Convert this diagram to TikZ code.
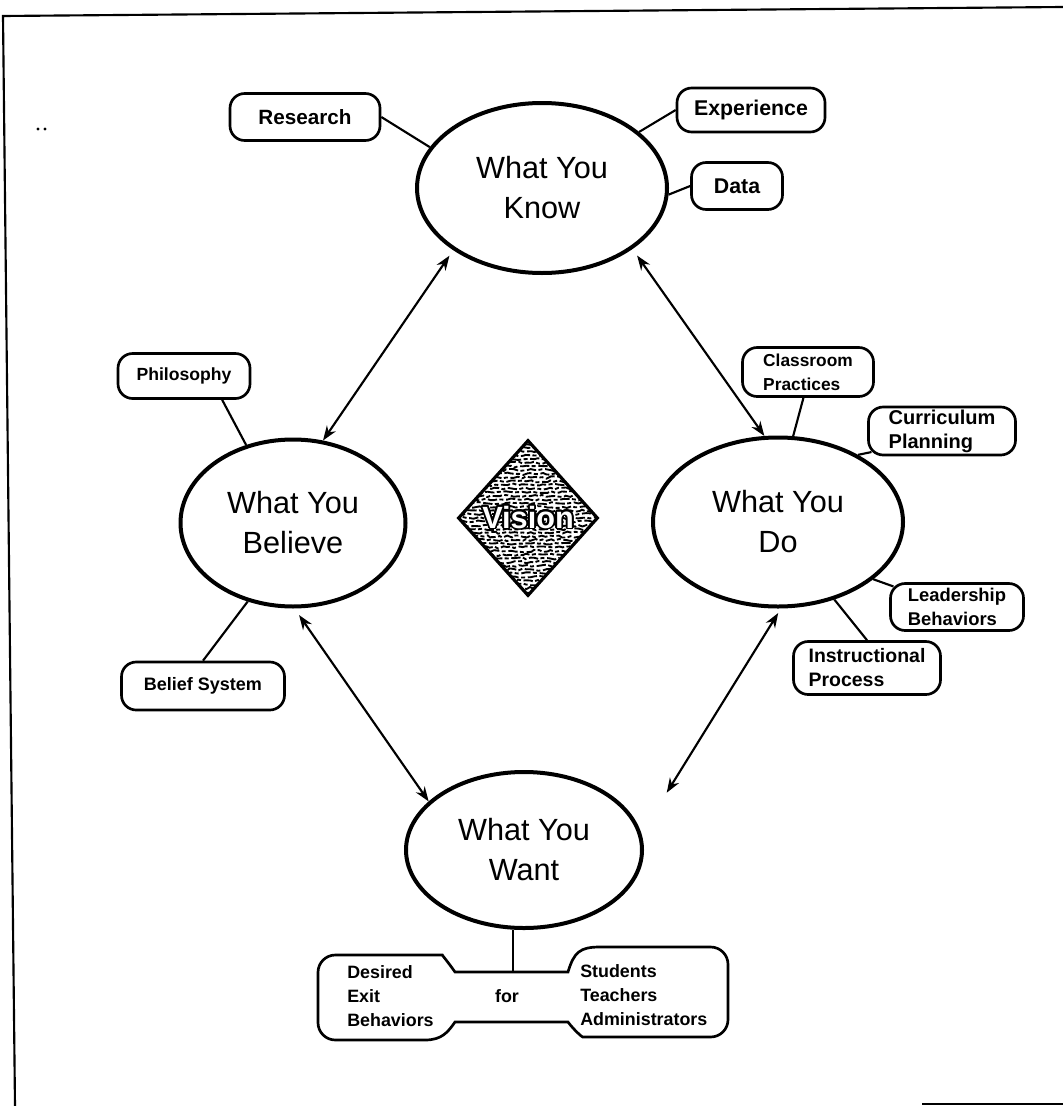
\documentclass[tikz,border=0pt]{standalone}
\usepackage{fontspec}
\setmainfont{Liberation Sans}
\usepackage{contour}
\usetikzlibrary{shapes.geometric,arrows.meta,decorations.pathmorphing,calc}
\contourlength{1.3pt}
\contournumber{24}
\newcommand\bxf[1]{\fontsize{#1}{18pt}\selectfont\bfseries}
\begin{document}
\begin{tikzpicture}[x=0.75pt,y=-0.75pt,
  oval/.style={ellipse, draw, line width=3pt, inner sep=0pt, align=center, font=\fontsize{23}{30}\selectfont},
  bx/.style={draw, rounded corners=11pt, line width=2pt, inner sep=0pt, align=left},
  txt/.style={inner sep=0pt, align=left, font=\bxf{13.4}},
  link/.style={line width=1.6pt},
  dbl/.style={line width=1.6pt, {Stealth[length=11pt,width=8pt]}-{Stealth[length=11pt,width=8pt]}},
]
\pgfmathsetseed{7}
\fill[white] (0,0) rectangle (1063,1106);
\useasboundingbox (0,0) rectangle (1063,1106);

% frame
\draw[line width=1.6pt] (1063,7) -- (3,16) -- (15,1106);
\draw[line width=1.6pt] (922,1104) -- (1063,1104);
\fill (38,129) circle (1.3pt);
\fill (45,129) circle (1.3pt);

% main ellipses
\node[oval, minimum width=187.5pt, minimum height=127.5pt] (know) at (542,188) {What You\\Know};
\node[oval, minimum width=168.75pt, minimum height=125.25pt] (believe) at (293,523) {What You\\Believe};
\node[oval, minimum width=187.5pt, minimum height=126.75pt] (do) at (778,522) {What You\\Do};
\node[oval, minimum width=177pt, minimum height=117pt] (want) at (524,850) {What You\\Want};

% vision diamond
\node[diamond, draw, line width=2.4pt, minimum width=105pt, minimum height=117pt, inner sep=0pt,
  font=\fontsize{23}{23}\selectfont\bfseries,
  path picture={
    \foreach \k in {0,...,42}{
      \pgfmathsetmacro\ph{mod(\k*3.7,9)}
      \draw[line width=1.4pt, dash pattern=on 7pt off 1.8pt on 3pt off 2pt, dash phase=\ph pt,
            decorate, decoration={random steps, segment length=3pt, amplitude=0.9pt}]
        ($(path picture bounding box.north west)!{\k/42}!(path picture bounding box.south west)$) --
        ($(path picture bounding box.north east)!{\k/42}!(path picture bounding box.south east)$);
    }
  }] (vision) at (528,518) {\contour{black}{\textcolor{white}{Vision}}};

% satellite boxes
\node[bx, minimum width=112.5pt, minimum height=35.25pt, font=\bxf{15.5}] (research) at (305,117) {Research};
\node[bx, minimum width=111pt, minimum height=33pt, font=\bxf{16}] (experience) at (751,110) {Experience};
\node[bx, minimum width=68.25pt, minimum height=35.25pt, font=\bxf{16}] (data) at (737,186) {Data};
\node[bx, minimum width=99pt, minimum height=33.75pt, font=\bxf{13.2}] (philosophy) at (184,376) {Philosophy};
\node[bx, minimum width=122.25pt, minimum height=36pt, font=\bxf{13.5}] (belief) at (203,686) {Belief System};
\node[bx, minimum width=98.25pt, minimum height=36.75pt, font=\bxf{13}] (classroom) at (808,372) {Classroom\\Practices};
\node[bx, minimum width=110.25pt, minimum height=36pt, font=\bxf{15}] (curriculum) at (942,431) {Curriculum\\Planning};
\node[bx, minimum width=99.75pt, minimum height=35.25pt, font=\bxf{13.8}] (leadership) at (957,607) {Leadership\\Behaviors};
\node[bx, minimum width=110.25pt, minimum height=39.75pt, font=\bxf{14.6}] (instructional) at (867,668) {Instructional\\Process};

% connectors
\draw[link] (research.east) -- (know.160);
\draw[link] (experience.west) -- (know.30);
\draw[link] (data.west) -- (know.357);
\draw[link] (philosophy.-32) -- (believe.121);
\draw[link] (belief.north) -- (believe.240);
\draw[link] (classroom.-100) -- (do.80);
\draw[link] ($(curriculum.south west)+(4.3,-4.3)$) -- (do.40);
\draw[link] ($(leadership.north west)+(4.3,4.3)$) -- (do.329);
\draw[link] (instructional.north) -- (do.306);

% double arrows
\draw[dbl, shorten >=5pt] (believe.70) -- (know.215);
\draw[dbl, shorten >=6pt] (do.99) -- (know.326);
\draw[dbl, shorten <=6pt] (believe.271) -- (want.153);
\draw[dbl, shorten <=4pt, shorten >=36pt] (do.272) -- (want.8);

% bottom
\node[txt, anchor=west] (desired) at (347,996) {Desired\\Exit\\Behaviors};
\node[txt] (for) at (507,996) {for};
\node[txt, anchor=west] (students) at (580,995) {Students\\Teachers\\Administrators};
\coordinate (stem) at (515,972);
\draw[link] (want.262) -- (want.262 |- stem);
\draw[line width=2pt]
  (455,972) -- (568,972) .. controls (574,952) and (580,947) .. (600,947)
  [rounded corners=13pt] -- (728,947) -- (728,1037) -- (600,1037) [sharp corners]
  .. controls (582,1037) and (574,1030) .. (568,1022) -- (455,1022)
  .. controls (448,1032) and (442,1040) .. (425,1040)
  [rounded corners=13pt] -- (318,1040) -- (318,955) -- (425,955) [sharp corners]
  .. controls (442,955) and (448,962) .. (455,972) -- cycle;
\end{tikzpicture}
\end{document}
